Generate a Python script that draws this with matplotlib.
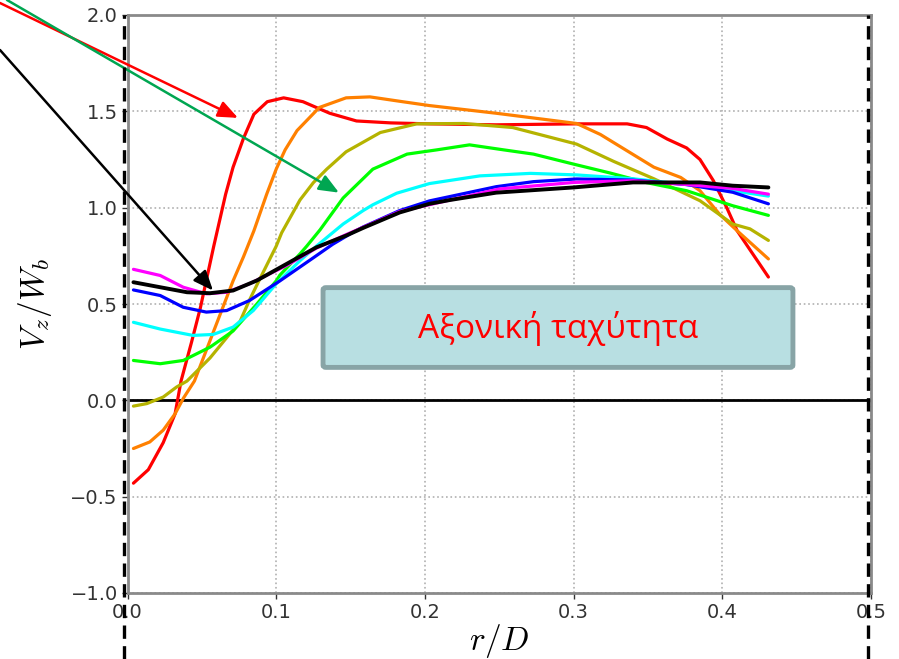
import matplotlib
matplotlib.use("Agg")
import matplotlib.pyplot as plt
from matplotlib.lines import Line2D
from matplotlib.patches import FancyBboxPatch

plt.rcParams["mathtext.fontset"] = "cm"

# ---- data (r/D, Vz/Wb) ----
red_x = [0.004, 0.014, 0.024, 0.032, 0.036, 0.043, 0.049, 0.058, 0.066, 0.071, 0.078, 0.085, 0.094, 0.105, 0.118,
         0.136, 0.154, 0.177, 0.203, 0.248, 0.302, 0.336, 0.349, 0.363, 0.376, 0.385, 0.394, 0.403, 0.410, 0.419, 0.431]
red_y = [-0.43, -0.36, -0.22, -0.07, 0.10, 0.30, 0.48, 0.80, 1.07, 1.21, 1.36, 1.485, 1.55, 1.57, 1.55,
         1.49, 1.45, 1.44, 1.435, 1.43, 1.435, 1.435, 1.416, 1.356, 1.31, 1.25, 1.14, 1.0, 0.88, 0.777, 0.64]

orange_x = [0.004, 0.015, 0.024, 0.032, 0.0375, 0.045, 0.058, 0.071, 0.078, 0.085, 0.0936, 0.100, 0.106, 0.114,
            0.129, 0.147, 0.163, 0.185, 0.203, 0.248, 0.302, 0.318, 0.336, 0.354, 0.372, 0.385, 0.398, 0.410, 0.431]
orange_y = [-0.25, -0.216, -0.155, -0.07, 0.01, 0.10, 0.36, 0.62, 0.745, 0.88, 1.07, 1.20, 1.30, 1.40,
            1.52, 1.57, 1.575, 1.55, 1.53, 1.49, 1.437, 1.38, 1.295, 1.21, 1.157, 1.088, 0.967, 0.88, 0.734]

olive_x = [0.004, 0.013, 0.024, 0.033, 0.040, 0.0555, 0.0757, 0.082, 0.089, 0.100, 0.1037, 0.116, 0.125, 0.134,
           0.147, 0.170, 0.1945, 0.226, 0.259, 0.302, 0.327, 0.354, 0.385, 0.407, 0.4186, 0.431]
olive_y = [-0.03, -0.017, 0.017, 0.069, 0.10, 0.22, 0.41, 0.52, 0.63, 0.80, 0.87, 1.04, 1.13, 1.20,
           1.29, 1.39, 1.435, 1.437, 1.416, 1.33, 1.24, 1.15, 1.036, 0.915, 0.89, 0.83]

lime_x = [0.004, 0.022, 0.0375, 0.0555, 0.071, 0.087, 0.100, 0.1025, 0.116, 0.1205, 0.1295, 0.145, 0.165, 0.188,
          0.208, 0.230, 0.253, 0.273, 0.300, 0.3245, 0.349, 0.376, 0.407, 0.431]
lime_y = [0.207, 0.19, 0.207, 0.276, 0.36, 0.50, 0.62, 0.650, 0.76, 0.80, 0.885, 1.05, 1.20, 1.278,
          1.30, 1.326, 1.30, 1.278, 1.226, 1.18, 1.13, 1.088, 1.01, 0.96]

cyan_x = [0.004, 0.022, 0.044, 0.0577, 0.071, 0.0846, 0.100, 0.116, 0.127, 0.145, 0.1585, 0.165, 0.181, 0.203,
          0.237, 0.271, 0.302, 0.340, 0.376, 0.407, 0.431]
cyan_y = [0.405, 0.37, 0.337, 0.342, 0.38, 0.466, 0.605, 0.725, 0.80, 0.915, 0.985, 1.015, 1.075, 1.125,
          1.165, 1.178, 1.17, 1.15, 1.12, 1.088, 1.06]

blue_x = [0.004, 0.022, 0.0375, 0.053, 0.0667, 0.082, 0.1025, 0.125, 0.138, 0.150, 0.1585, 0.183, 0.203,
          0.248, 0.273, 0.302, 0.340, 0.376, 0.407, 0.431]
blue_y = [0.573, 0.544, 0.483, 0.458, 0.466, 0.518, 0.62, 0.74, 0.81, 0.865, 0.90, 0.985, 1.035,
          1.109, 1.135, 1.149, 1.143, 1.12, 1.08, 1.02]

magenta_x = [0.004, 0.022, 0.0375, 0.053, 0.0667, 0.082, 0.107, 0.127, 0.147, 0.183, 0.217, 0.250, 0.300,
             0.340, 0.376, 0.407, 0.431]
magenta_y = [0.68, 0.648, 0.587, 0.553, 0.561, 0.605, 0.70, 0.79, 0.86, 0.98, 1.04, 1.097, 1.131,
             1.14, 1.12, 1.10, 1.07]

black_x = [0.004, 0.022, 0.040, 0.0555, 0.071, 0.087, 0.107, 0.127, 0.147, 0.1585, 0.183, 0.203, 0.217, 0.248,
           0.300, 0.340, 0.385, 0.407, 0.431]
black_y = [0.613, 0.587, 0.561, 0.556, 0.57, 0.622, 0.708, 0.794, 0.855, 0.895, 0.975, 1.02, 1.040, 1.078,
           1.105, 1.131, 1.131, 1.114, 1.105]

x_ticks = [0.0, 0.1, 0.2, 0.3, 0.4, 0.5]
y_ticks = [-1.0, -0.5, 0.0, 0.5, 1.0, 1.5, 2.0]
box_text = "Αξονική ταχύτητα"

series = [
    (red_x, red_y, "#ff0000", 2.3),
    (orange_x, orange_y, "#ff8000", 2.3),
    (olive_x, olive_y, "#b5b300", 2.3),
    (lime_x, lime_y, "#00ff00", 2.3),
    (cyan_x, cyan_y, "#00ffff", 2.3),
    (blue_x, blue_y, "#0000ff", 2.3),
    (magenta_x, magenta_y, "#ff00ff", 2.3),
    (black_x, black_y, "#000000", 2.8),
]

W, H = 899, 659
fig = plt.figure(figsize=(W / 100, H / 100), dpi=100)
ax = fig.add_axes([127.5 / W, (H - 593) / H, (871 - 127.5) / W, (593 - 15) / H])

ax.set_xlim(0, 0.5)
ax.set_ylim(-1.0, 2.0)

for xs, ys, c, lw in series:
    ax.plot(xs, ys, color=c, lw=lw, solid_capstyle="round", solid_joinstyle="round", zorder=3)

ax.axhline(0.0, color="black", lw=2.0, zorder=2)

ax.set_xticks(x_ticks)
ax.set_yticks(y_ticks)
ax.set_xticklabels([f"{v:.1f}" for v in x_ticks])
ax.set_yticklabels([f"{v:.1f}".replace("-", "\u2212") for v in y_ticks])
ax.tick_params(labelsize=14, colors="#333333", length=4, width=1, pad=3)
ax.grid(True, ls=":", color="#b0b0b0", lw=1.2)
for s in ax.spines.values():
    s.set_color("#8a8a8a")
    s.set_linewidth(2.0)

ax.set_xlabel(r"$r/D$", fontsize=24, labelpad=0)
ax.set_ylabel(r"$V_z/W_b$", fontsize=24, labelpad=12)

# text box
box = FancyBboxPatch((0.1315, 0.171), 0.4475 - 0.1315, 0.585 - 0.171,
                     boxstyle="round,pad=0,rounding_size=0.002",
                     facecolor="#b8dfe2", edgecolor="#88a4a6", lw=3.5, zorder=5,
                     mutation_aspect=6)
ax.add_patch(box)
ax.text(0.2895, 0.372, box_text, color="#ff0000", fontsize=24,
        family=["Open Sans", "DejaVu Sans"], ha="center", va="center", zorder=6)

# arrows from outside the axes
arrow_specs = [
    ((0, H - 3), (0.0743, 1.466), "#ff0000"),
    ((7, H), (0.1422, 1.078), "#00a651"),
    ((0, H - 50), (0.0575, 0.570), "#000000"),
]
for start, tip, c in arrow_specs:
    ax.annotate("", xy=tip, xycoords="data", xytext=start, textcoords="figure pixels",
                arrowprops=dict(arrowstyle="-|>,head_length=1.2,head_width=0.5", color=c,
                                lw=1.8, shrinkA=0, shrinkB=0),
                annotation_clip=False, zorder=7)

# dashed vertical lines spanning the figure
for xp in (124, 868):
    fig.add_artist(Line2D([xp / W, xp / W], [0, (H - 15) / H], transform=fig.transFigure,
                          color="black", lw=2.4, ls=(0, (4, 2.2)), zorder=10))

fig.savefig("out.png", dpi=100)
